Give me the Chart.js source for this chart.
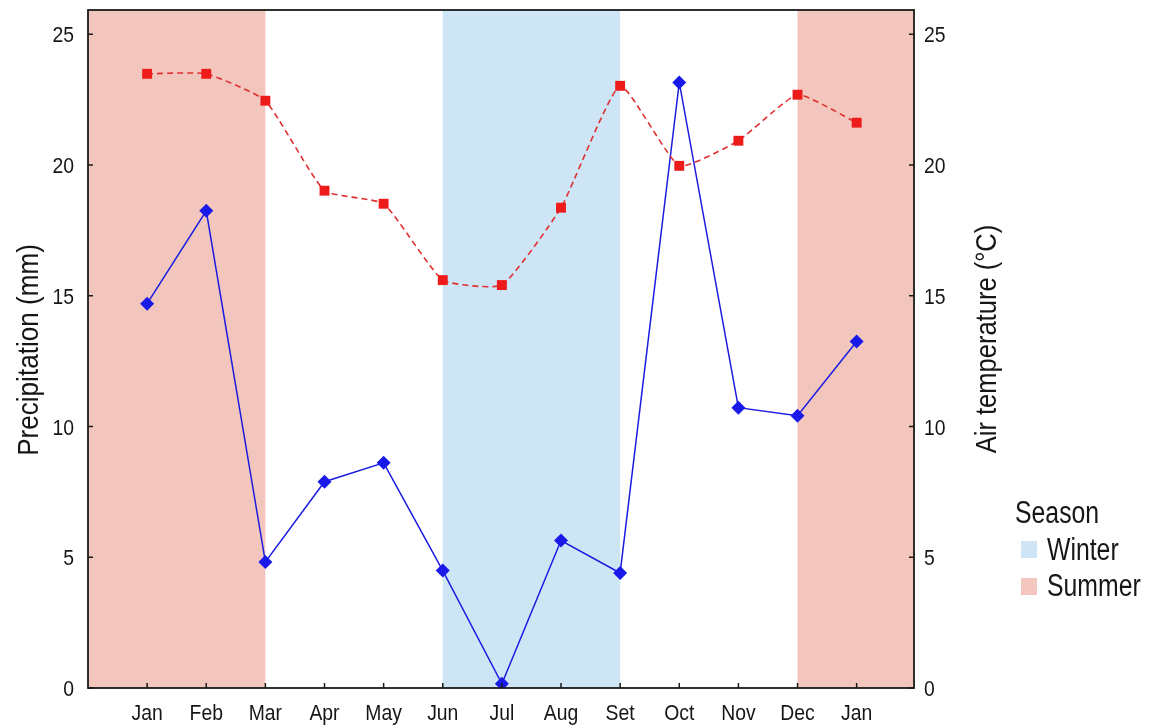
<!DOCTYPE html>
<html>
<head>
<meta charset="utf-8">
<script src="https://cdn.jsdelivr.net/npm/chart.js@4.4.1/dist/chart.umd.min.js"></script>
<style>
  html, body { margin: 0; padding: 0; background: #fff; }
  canvas { display: block; }
</style>
</head>
<body>
<canvas id="chart" width="1159" height="726"></canvas>
<script>
// Data
const months = ['Jan', 'Feb', 'Mar', 'Apr', 'May', 'Jun', 'Jul', 'Aug', 'Set', 'Oct', 'Nov', 'Dec', 'Jan'];
const precipitation = [14.7, 18.25, 4.82, 7.89, 8.61, 4.49, 0.16, 5.64, 4.4, 23.16, 10.72, 10.41, 13.25];
const temperature = [23.49, 23.49, 22.46, 19.02, 18.52, 15.6, 15.41, 18.37, 23.03, 19.97, 20.93, 22.69, 21.62];
const yTicks = [0, 5, 10, 15, 20, 25];

// Season bands, in month positions (0 = first Jan)
const seasonNames = ['Summer', 'Winter', 'Summer'];
const seasonStart = [-1, 5, 11];
const seasonEnd = [2, 8, 13];
const legendNames = ['Winter', 'Summer'];

const seasonColors = { Winter: '#cde5f4', Summer: '#f2c6bd' };
const legendColors = { Winter: '#cfe5f6', Summer: '#f4c6c0' };
const textColor = '#161616';
const FONT = '"Liberation Sans", Arial, sans-serif';

// text in the figure is a narrow face, so squeeze it along the baseline
function drawText(ctx, text, x, y, align, size, sx, rot) {
    ctx.save();
    ctx.translate(x, y);
    if (rot) ctx.rotate(rot);
    ctx.scale(sx, 1);
    ctx.font = size + 'px ' + FONT;
    ctx.textAlign = align;
    ctx.textBaseline = 'alphabetic';
    ctx.fillStyle = textColor;
    ctx.fillText(text, 0, 0);
    ctx.restore();
}

const seasonPlugin = {
    id: 'seasons',
    beforeDatasetsDraw(chart) {
        const { ctx, chartArea: a, scales: { x } } = chart;
        ctx.save();
        seasonNames.forEach((name, i) => {
            const x0 = Math.max(a.left, x.getPixelForValue(seasonStart[i]));
            const x1 = Math.min(a.right, x.getPixelForValue(seasonEnd[i]));
            ctx.fillStyle = seasonColors[name];
            ctx.fillRect(x0, a.top, x1 - x0, a.bottom - a.top);
        });
        ctx.restore();
    }
};

const framePlugin = {
    id: 'frame',
    afterDraw(chart) {
        const { ctx, chartArea: a, scales: { x, y, y1 } } = chart;
        ctx.save();
        ctx.strokeStyle = '#1a1a1a';
        ctx.lineWidth = 1.8;
        ctx.strokeRect(a.left, a.top, a.right - a.left, a.bottom - a.top);

        // inward tick marks
        ctx.lineWidth = 1.5;
        ctx.beginPath();
        x.ticks.forEach(t => {
            const px = x.getPixelForValue(t.value);
            ctx.moveTo(px, a.bottom);
            ctx.lineTo(px, a.bottom - 5);
        });
        y.ticks.forEach(t => {
            const py = y.getPixelForValue(t.value);
            ctx.moveTo(a.left, py);
            ctx.lineTo(a.left + 5, py);
        });
        y1.ticks.forEach(t => {
            const py = y1.getPixelForValue(t.value);
            ctx.moveTo(a.right, py);
            ctx.lineTo(a.right - 5, py);
        });
        ctx.stroke();
        ctx.restore();

        // tick labels
        x.ticks.forEach(t => {
            drawText(ctx, months[t.value], x.getPixelForValue(t.value), a.bottom + 32, 'center', 22, 0.88);
        });
        y.ticks.forEach(t => {
            drawText(ctx, String(t.value), a.left - 14, y.getPixelForValue(t.value) + 8, 'right', 22, 0.88);
        });
        y1.ticks.forEach(t => {
            drawText(ctx, String(t.value), a.right + 10, y1.getPixelForValue(t.value) + 8, 'left', 22, 0.88);
        });

        // axis titles, both read bottom to top
        const midL = (a.top + a.bottom) / 2;
        drawText(ctx, 'Precipitation (mm)', 38, midL + 1, 'center', 29, 0.9, -Math.PI / 2);
        drawText(ctx, 'Air temperature (°C)', 996, midL - 10, 'center', 29, 0.88, -Math.PI / 2);

        // legend
        drawText(ctx, 'Season', 1015, 523, 'left', 31, 0.8);
        legendNames.forEach((name, i) => {
            const top = 541 + i * 37;
            ctx.fillStyle = legendColors[name];
            ctx.fillRect(1021, top, 16, 17);
            drawText(ctx, name, 1047, top + 19 + (i === 0 ? 0 : -1), 'left', 31, 0.8);
        });
    }
};

const monthPos = months.map((m, i) => i);

new Chart(document.getElementById('chart'), {
    type: 'line',
    data: {
        datasets: [
            {
                label: 'Air temperature',
                data: temperature.map((v, i) => ({ x: monthPos[i], y: v })),
                yAxisID: 'y1',
                borderColor: '#e03030',
                borderWidth: 1.6,
                borderDash: [6, 4],
                tension: 0.15,
                pointStyle: 'rect',
                pointRadius: 7,
                pointBackgroundColor: '#ee1b1b',
                pointBorderColor: '#ee1b1b',
                pointBorderWidth: 0,
                order: 0
            },
            {
                label: 'Precipitation',
                data: precipitation.map((v, i) => ({ x: monthPos[i], y: v })),
                yAxisID: 'y',
                borderColor: '#1c1ce0',
                borderWidth: 1.5,
                tension: 0,
                pointStyle: 'rectRot',
                pointRadius: 7,
                pointBackgroundColor: '#1a1ae8',
                pointBorderColor: '#1a1ae8',
                pointBorderWidth: 0,
                order: 1
            }
        ]
    },
    options: {
        responsive: false,
        animation: false,
        devicePixelRatio: 1,
        layout: { padding: { top: 10, left: 0, right: 0, bottom: 0 } },
        plugins: {
            legend: { display: false },
            tooltip: { enabled: false }
        },
        scales: {
            x: {
                type: 'linear',
                min: -1,
                max: 12.97,
                grid: { display: false },
                border: { display: false },
                ticks: { display: false, stepSize: 1 },
                afterBuildTicks(scale) {
                    scale.ticks = monthPos.map(v => ({ value: v }));
                },
                afterFit(scale) { scale.height = 38; }
            },
            y: {
                position: 'left',
                min: 0,
                max: 25.93,
                grid: { display: false },
                border: { display: false },
                ticks: { display: false },
                afterBuildTicks(scale) {
                    scale.ticks = yTicks.map(v => ({ value: v }));
                },
                afterFit(scale) { scale.width = 88; }
            },
            y1: {
                position: 'right',
                min: 0,
                max: 25.93,
                grid: { display: false },
                border: { display: false },
                ticks: { display: false },
                afterBuildTicks(scale) {
                    scale.ticks = yTicks.map(v => ({ value: v }));
                },
                afterFit(scale) { scale.width = 245; }
            }
        }
    },
    plugins: [seasonPlugin, framePlugin]
});
</script>
</body>
</html>
